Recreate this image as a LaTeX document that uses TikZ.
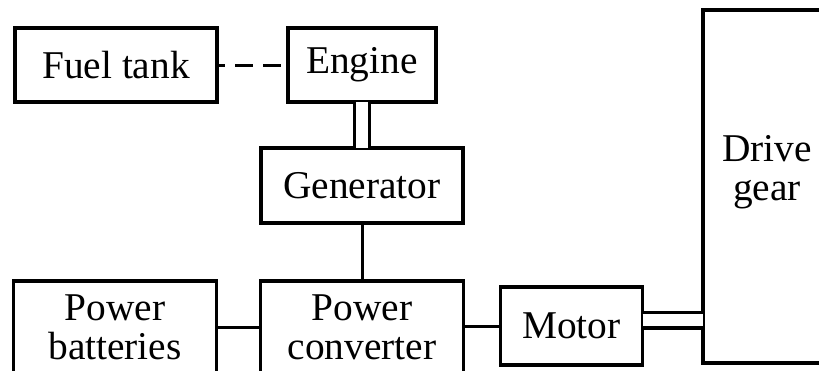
\documentclass[tikz,border=0pt]{standalone}
\usepackage{fontspec}
\setmainfont{Liberation Serif}
\usetikzlibrary{positioning}

\begin{document}
\begin{tikzpicture}[x=0.25mm,y=-0.25mm,
    blk/.style={draw,line width=0.8mm,outer sep=0pt,inner sep=0pt,align=center,
      font=\fontsize{28}{28}\selectfont},
    link/.style={line width=0.75mm},
    shaft/.style={double,line width=0.8mm,double distance=3mm}]
  \useasboundingbox (0,0) rectangle (819,370);
  \clip (0,0) rectangle (819,370);
  % upper row and generator
  \node[blk,minimum width=50.5mm,minimum height=18.5mm] (fuel) at (116,65) {Fuel tank};
  \node[blk,minimum width=37mm,minimum height=18.5mm,right=17.75mm of fuel] (engine) {Engine};
  \node[blk,minimum width=50.5mm,minimum height=18.75mm,below=11.5mm of engine] (gen) {Generator};
  % lower row
  \node[blk,minimum width=50.75mm,minimum height=23mm,below=14.5mm of gen] (conv) {Power\\converter};
  \node[blk,minimum width=50.75mm,minimum height=23mm,left=11mm of conv] (batt) {Power\\batteries};
  \node[blk,minimum width=35.5mm,minimum height=19.5mm,right=9.25mm of conv,yshift=0.25mm] (motor) {Motor};
  \node[blk,minimum width=32mm,minimum height=88.25mm,
    label={[font=\fontsize{28}{28}\selectfont,align=center,yshift=3.5mm]center:Drive\\gear}] (drive) at (767,186.5) {};
  % connections
  \draw[link,dash pattern=on 4.5mm off 2.5mm,dash phase=2.5mm] (fuel) -- (engine);
  \draw[shaft] (engine) -- (gen);
  \draw[link] (gen) -- (conv);
  \draw[link] (batt) -- (conv);
  \draw[link] (motor.west -| conv.east) -- (motor.west);
  \coordinate (mshaft) at ([yshift=1.4mm]motor.east);
  \draw[shaft] (mshaft) -- (mshaft -| drive.west);
\end{tikzpicture}
\end{document}
